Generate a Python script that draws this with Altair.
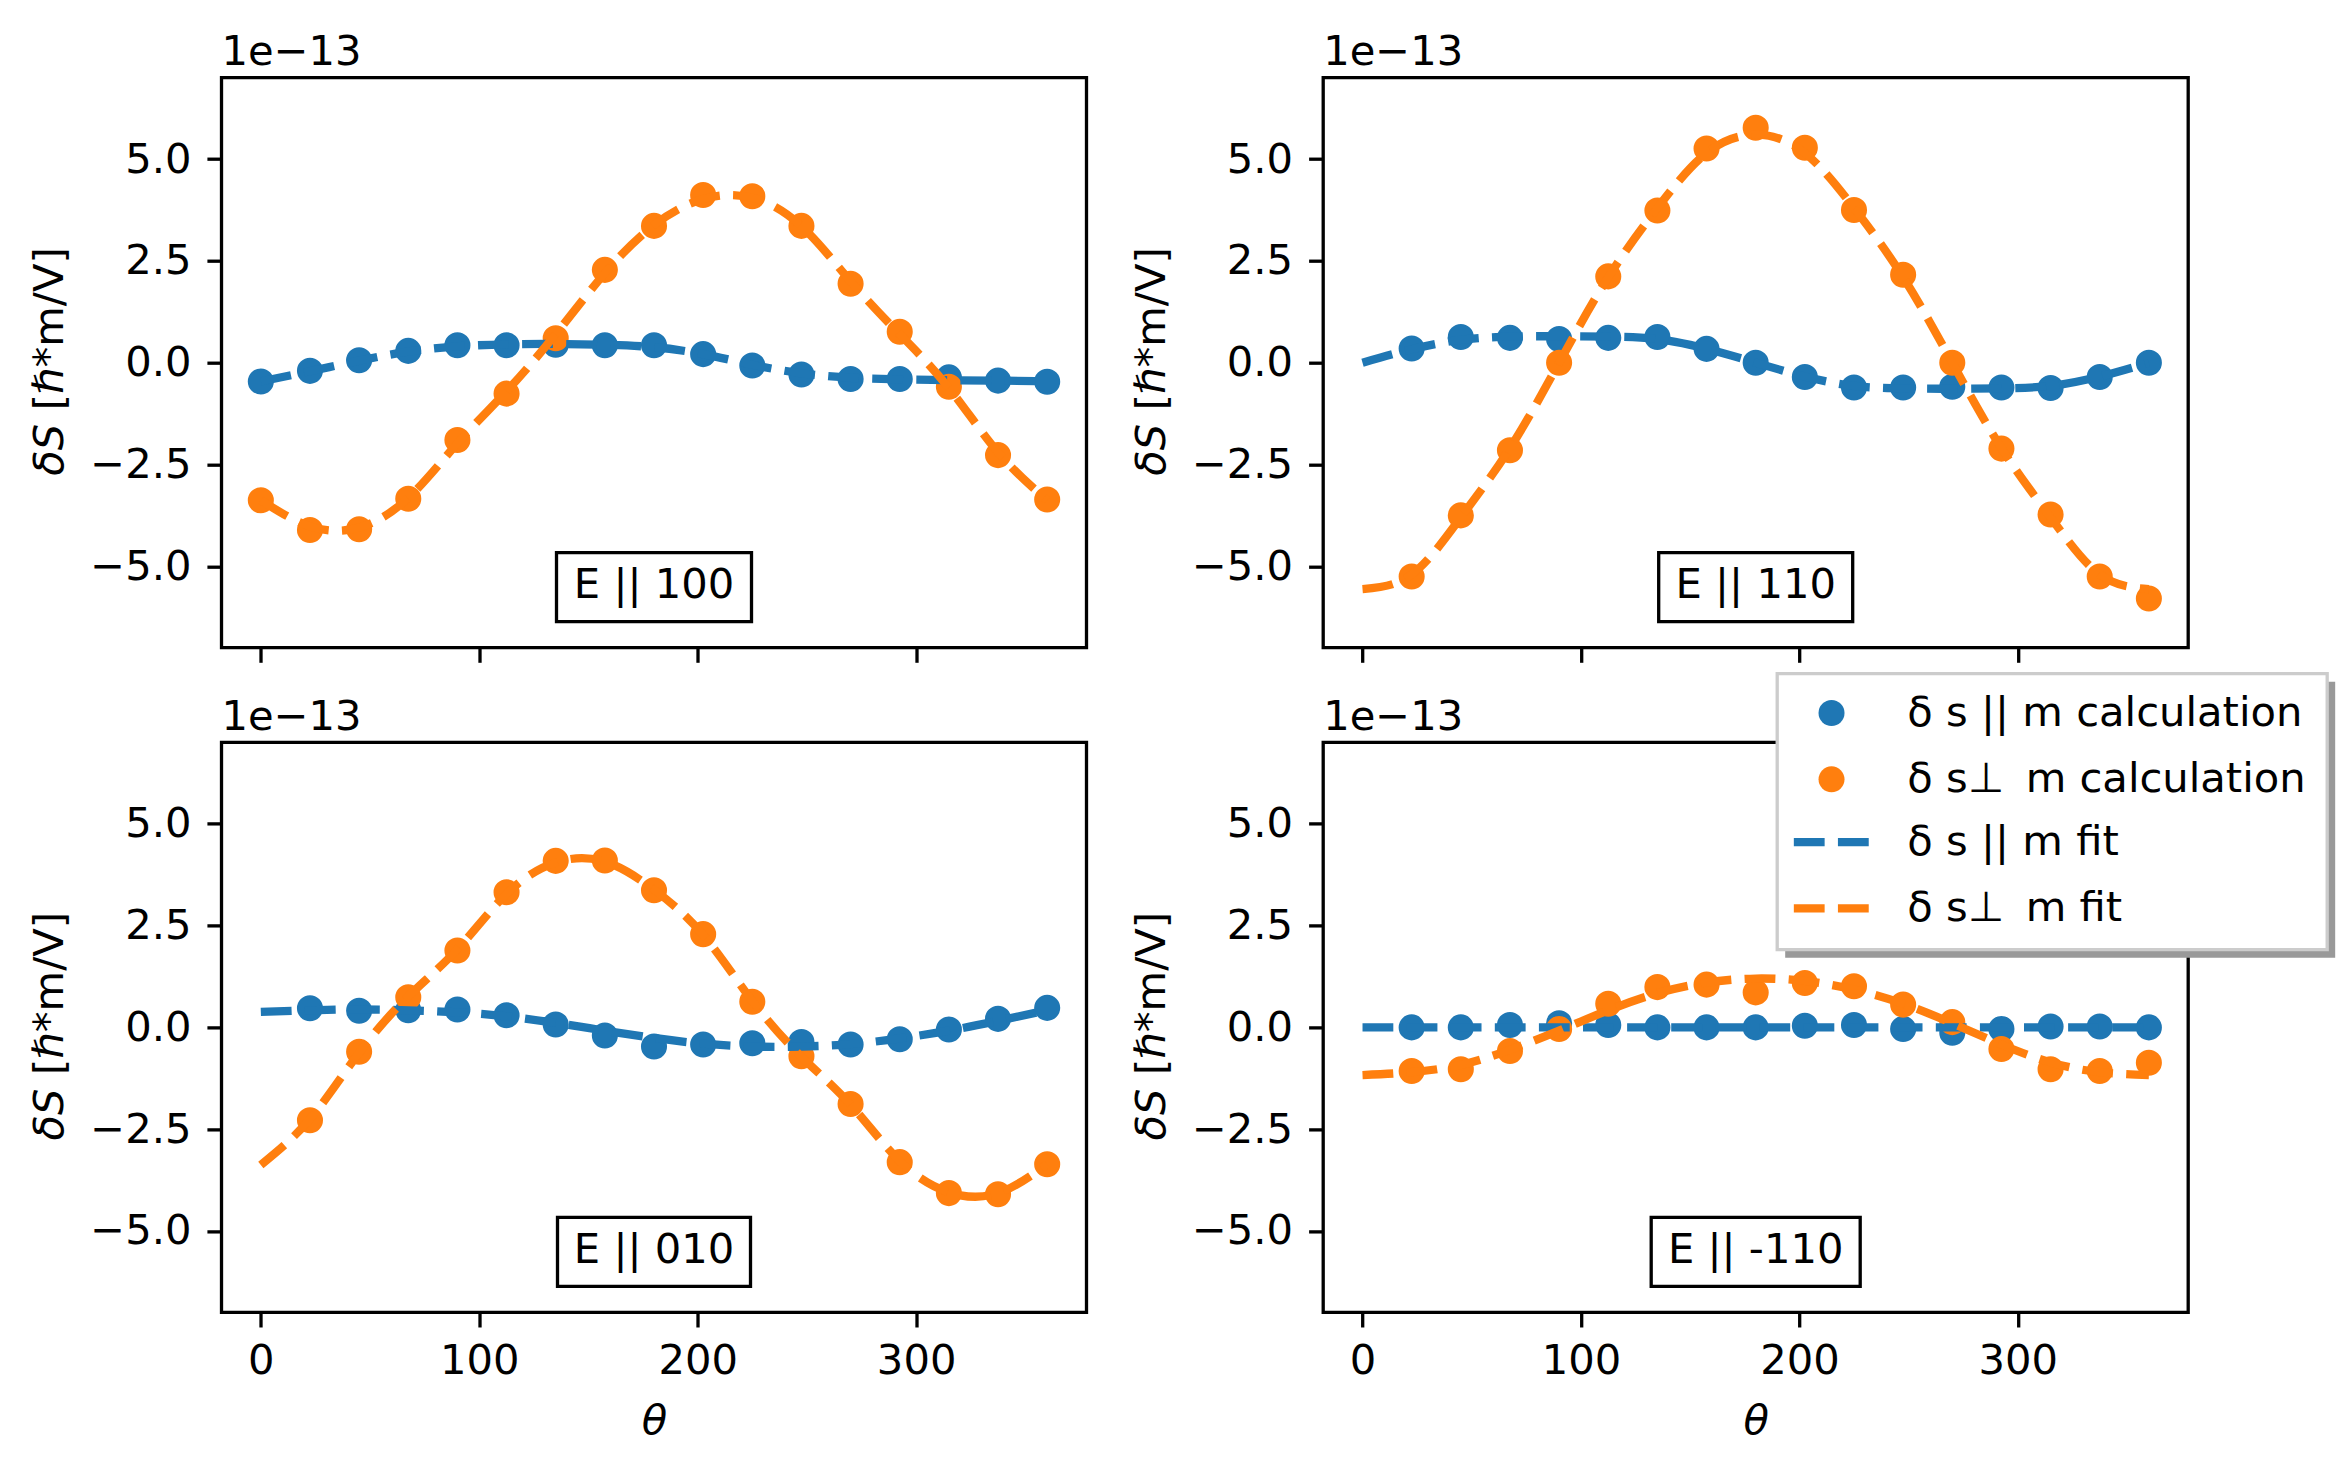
import altair as alt
import pandas as pd

# ---------------- data (values in units of 1e-13) ----------------
THETA = [0, 22.5, 45, 67.5, 90, 112.5, 135, 157.5, 180, 202.5, 225, 247.5, 270, 292.5, 315, 337.5, 360]

PANELS = ["E || 100", "E || 110", "E || 010", "E || -110"]

SERIES = ["δ s || m calculation", "δ s⊥\u2009 m calculation", "δ s || m fit", "δ s⊥\u2009 m fit"]
COLORS = ["#1f77b4", "#ff7f0e", "#1f77b4", "#ff7f0e"]

X_TICKS = [0, 100, 200, 300]
Y_TICKS = [-5.0, -2.5, 0.0, 2.5, 5.0]

# E || 100
CALC_PAR_100 = [-0.46, -0.20, 0.06, 0.29, 0.43, 0.43, 0.44, 0.43, 0.43, 0.21, -0.07, -0.29, -0.40, -0.40, -0.36, -0.44, -0.47]
CALC_PERP_100 = [-3.38, -4.11, -4.09, -3.34, -1.90, -0.76, 0.60, 2.28, 3.36, 4.12, 4.09, 3.36, 1.94, 0.76, -0.59, -2.27, -3.36]
FIT_PAR_100 = [-0.46, -0.21, 0.05, 0.27, 0.40, 0.45, 0.46, 0.44, 0.38, 0.21, -0.05, -0.26, -0.37, -0.41, -0.43, -0.44, -0.46]
FIT_PERP_100 = [-3.38, -4.02, -4.05, -3.32, -1.98, -0.70, 0.70, 2.20, 3.38, 4.02, 4.05, 3.35, 2.00, 0.70, -0.62, -2.20, -3.38]

# E || 110
CALC_PAR_110 = [None, 0.35, 0.63, 0.61, 0.58, 0.61, 0.63, 0.34, 0.00, -0.35, -0.61, -0.61, -0.59, -0.61, -0.62, -0.35, 0.00]
CALC_PERP_110 = [None, -5.25, -3.75, -2.15, 0.00, 2.12, 3.74, 5.26, 5.77, 5.28, 3.75, 2.16, 0.00, -2.11, -3.73, -5.25, -5.79]
FIT_PAR_110 = [0.00, 0.33, 0.56, 0.64, 0.65, 0.64, 0.58, 0.34, 0.00, -0.34, -0.57, -0.63, -0.64, -0.63, -0.57, -0.34, 0.00]
FIT_PERP_110 = [-5.56, -5.20, -3.80, -2.10, 0.00, 2.10, 3.80, 5.15, 5.60, 5.15, 3.80, 2.10, 0.00, -2.10, -3.80, -5.20, -5.56]

# E || 010
CALC_PAR_010 = [None, 0.47, 0.41, 0.42, 0.44, 0.30, 0.07, -0.20, -0.47, -0.42, -0.39, -0.36, -0.42, -0.29, -0.05, 0.21, 0.48]
CALC_PERP_010 = [None, -2.28, -0.60, 0.74, 1.89, 3.32, 4.09, 4.10, 3.37, 2.29, 0.63, -0.71, -1.88, -3.31, -4.07, -4.10, -3.36]
FIT_PAR_010 = [0.38, 0.42, 0.44, 0.42, 0.37, 0.27, 0.11, -0.08, -0.26, -0.40, -0.47, -0.47, -0.41, -0.27, -0.08, 0.16, 0.42]
FIT_PERP_010 = [-3.38, -2.25, -0.62, 0.76, 1.92, 3.28, 4.05, 4.07, 3.38, 2.27, 0.65, -0.72, -1.90, -3.28, -4.05, -4.07, -3.36]

# E || -110
CALC_PAR_M110 = [None, 0.00, 0.00, 0.06, 0.10, 0.06, 0.00, 0.00, 0.00, 0.04, 0.06, -0.04, -0.13, -0.04, 0.02, 0.02, 0.00]
CALC_PERP_M110 = [None, -1.07, -1.03, -0.58, -0.04, 0.58, 0.99, 1.05, 0.86, 1.09, 1.01, 0.56, 0.13, -0.53, -1.03, -1.07, -0.87]
FIT_PAR_M110 = [0.00, 0.00, 0.00, 0.00, 0.00, 0.00, 0.00, 0.00, 0.00, 0.00, 0.00, 0.00, 0.00, 0.00, 0.00, 0.00, 0.00]
FIT_PERP_M110 = [-1.17, -1.10, -0.92, -0.55, -0.08, 0.42, 0.84, 1.10, 1.20, 1.14, 0.93, 0.58, 0.10, -0.42, -0.86, -1.10, -1.17]

PANEL_DATA = {
    "E || 100": (CALC_PAR_100, CALC_PERP_100, FIT_PAR_100, FIT_PERP_100),
    "E || 110": (CALC_PAR_110, CALC_PERP_110, FIT_PAR_110, FIT_PERP_110),
    "E || 010": (CALC_PAR_010, CALC_PERP_010, FIT_PAR_010, FIT_PERP_010),
    "E || -110": (CALC_PAR_M110, CALC_PERP_M110, FIT_PAR_M110, FIT_PERP_M110),
}

rows = []
for key in PANELS:
    for s_name, vals in zip(SERIES, PANEL_DATA[key]):
        for th, v in zip(THETA, vals):
            if v is not None:
                rows.append({"panel": key, "theta": th, "value": v, "series": s_name})
df = pd.DataFrame(rows)

# ---------------- styling ----------------
FONT = "DejaVu Sans"
FS = 41.67
W, H = 865, 570
BOX_W = {"E || 100": 195, "E || 110": 194, "E || 010": 193, "E || -110": 209}

common_legend = dict(
    orient="none", legendX=1572.7, title=None, padding=0,
    labelFont=FONT, labelFontSize=FS, labelColor="black", labelLimit=900,
    symbolSize=676, symbolOffset=16.5, labelOffset=55, rowPadding=23.3,
)
legend_calc = alt.Legend(legendY=614.5, symbolType="circle", symbolStrokeWidth=0, **common_legend)
legend_fit = alt.Legend(legendY=743.5, symbolType="M-2.9,0H2.9", symbolStrokeWidth=8.3,
                        symbolDash=[30.8, 13.3], **common_legend)

color_calc = alt.Color("series:N", scale=alt.Scale(domain=SERIES[:2], range=COLORS[:2]), legend=legend_calc)
stroke_fit = alt.Stroke("series:N", scale=alt.Scale(domain=SERIES[2:], range=COLORS[2:]), legend=legend_fit)
yexpr = "replace(format(datum.value, '.1f'), '-', '\u2212')"


def panel(key, bottom_row, legend_frame=False):
    d = df[df.panel == key]
    if bottom_row:
        xaxis = alt.Axis(values=X_TICKS, format="d", title="θ", titleFontStyle="italic", labelFlush=False)
    else:
        xaxis = alt.Axis(values=X_TICKS, labels=False, title=None, labelFlush=False)
    x = alt.X("theta:Q", scale=alt.Scale(domain=[-18, 378], nice=False, zero=False), axis=xaxis)
    y = alt.Y("value:Q", scale=alt.Scale(domain=[-7, 7], nice=False, zero=False),
              axis=alt.Axis(values=Y_TICKS, labelExpr=yexpr, title=None, labelFlush=False))

    layers = []
    ann = pd.DataFrame({"label": [key], "offset": ["1e\u221213"], "t1": ["δS"], "t2": ["[ℏ*m/V]"]})
    if legend_frame:
        layers.append(alt.Chart(ann).mark_rect(fill="#999999").encode(
            x=alt.value(462), x2=alt.value(1012), y=alt.value(-60.7), y2=alt.value(215.3)))
        layers.append(alt.Chart(ann).mark_rect(fill="white", stroke="#cccccc", strokeWidth=3.3).encode(
            x=alt.value(454), x2=alt.value(1004), y=alt.value(-68.7), y2=alt.value(207.3)))
    for s_name in SERIES[:2]:
        layers.append(alt.Chart(d[d.series == s_name]).mark_circle(size=680, opacity=1).encode(
            x=x, y=y, color=color_calc))
    for s_name in SERIES[2:]:
        layers.append(alt.Chart(d[d.series == s_name]).mark_line(
            strokeWidth=8.3, strokeDash=[30.8, 13.3], interpolate="natural").encode(
            x=x, y=y, stroke=stroke_fit))
    bw = BOX_W[key]
    layers.append(alt.Chart(ann).mark_rect(fill="white", stroke="black", strokeWidth=3.3).encode(
        x=alt.value(W / 2 - bw / 2), x2=alt.value(W / 2 + bw / 2), y=alt.value(475), y2=alt.value(544)))
    layers.append(alt.Chart(ann).mark_text(align="center", baseline="alphabetic", font=FONT,
                                           fontSize=FS, color="black").encode(
        x=alt.value(W / 2), y=alt.value(520.5), text="label:N"))
    layers.append(alt.Chart(ann).mark_text(align="left", baseline="alphabetic", font=FONT,
                                           fontSize=FS, color="black").encode(
        x=alt.value(0), y=alt.value(-12.7), text="offset:N"))
    layers.append(alt.Chart(ann).mark_text(align="left", baseline="alphabetic", font=FONT, angle=270,
                                           fontStyle="italic", fontSize=FS, color="black").encode(
        x=alt.value(-158.5), y=alt.value(398), text="t1:N"))
    layers.append(alt.Chart(ann).mark_text(align="left", baseline="alphabetic", font=FONT, angle=270,
                                           fontSize=FS, color="black").encode(
        x=alt.value(-158.5), y=alt.value(332.5), text="t2:N"))
    return alt.layer(*layers).properties(width=W, height=H)


chart = alt.concat(
    panel("E || 100", False),
    panel("E || 110", False),
    panel("E || 010", True),
    panel("E || -110", True, legend_frame=True),
    columns=2,
    spacing={"row": 94.7, "column": 236.7},
    bounds="flush",
).properties(
    padding={"left": 19.5, "top": 21.7, "right": 5, "bottom": 5}
).configure(
    font=FONT
).configure_view(
    stroke="black", strokeWidth=3.3
).configure_axis(
    grid=False, domain=False, tickColor="black", tickWidth=3.3, tickSize=14.6,
    labelColor="black", labelFont=FONT, labelFontSize=FS,
    titleFont=FONT, titleFontSize=FS, titleFontWeight="normal", titleColor="black",
).configure_axisX(
    labelPadding=13.5, titlePadding=18
).configure_axisY(
    labelPadding=16
)

chart.save("out.html", embed_options={"renderer": "svg", "actions": False})
